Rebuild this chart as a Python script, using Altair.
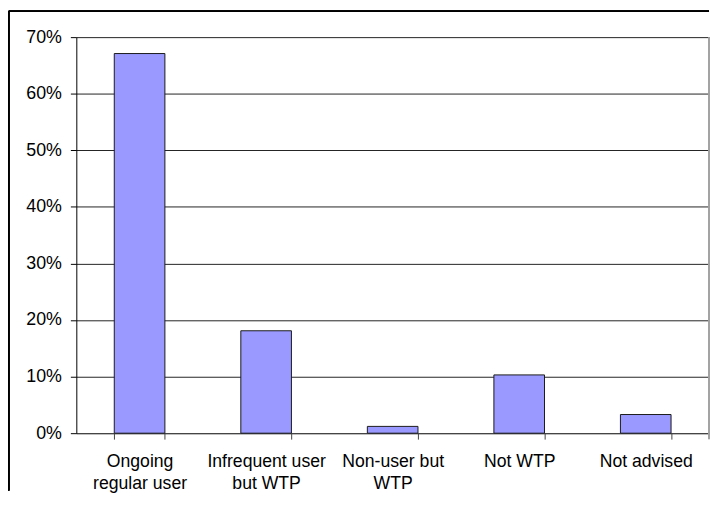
import altair as alt
import pandas as pd

categories = ["Ongoing\nregular user", "Infrequent user\nbut WTP", "Non-user but\nWTP", "Not WTP", "Not advised"]
shares = [0.671, 0.181, 0.012, 0.103, 0.033]
y_ticks = [0.0, 0.1, 0.2, 0.3, 0.4, 0.5, 0.6, 0.7]

df = pd.DataFrame({"category": categories, "share": shares})

W, H = 639, 400
FONT = "Liberation Sans"

bars = alt.Chart(df).mark_bar(color="#9999FF", stroke="#1a1a1a", strokeWidth=1).encode(
    x=alt.X(
        "category:N",
        sort=categories,
        scale=alt.Scale(paddingInner=0.6, paddingOuter=0.3),
        axis=alt.Axis(
            title=None,
            labelAngle=0,
            labelExpr="split(datum.label, '\\n')",
            labelFontSize=17.8,
            labelFont=FONT,
            labelColor="#000000",
            labelLineHeight=21.6,
            labelPadding=14,
            tickBand="extent",
            tickExtra=True,
            tickSize=6,
            tickColor="#444444",
            domainColor="#444444",
            grid=False,
        ),
    ),
    y=alt.Y(
        "share:Q",
        scale=alt.Scale(domain=[0, 0.7], nice=False),
        axis=alt.Axis(
            title=None,
            values=y_ticks,
            format=".0%",
            labelFontSize=18,
            labelFont=FONT,
            labelColor="#000000",
            labelPadding=9,
            tickSize=6,
            tickColor="#000000",
            domainColor="#000000",
            grid=True,
            gridColor="#222222",
            gridOpacity=1,
        ),
    ),
)

right_edge = alt.Chart(df).mark_rule(color="#a0a0a0", strokeWidth=1).encode(
    x=alt.value(W), y=alt.value(0), y2=alt.value(H + 6)
)
border_left = alt.Chart(df).mark_rule(color="#000000", strokeWidth=1.5).encode(
    x=alt.value(-68.25), y=alt.value(-26.25), y2=alt.value(458)
)
border_top = alt.Chart(df).mark_rule(color="#000000", strokeWidth=1.5).encode(
    x=alt.value(-68.25), x2=alt.value(W), y=alt.value(-26.25)
)

chart = alt.layer(bars, right_edge, border_left, border_top).properties(
    width=W, height=H, padding=0, background="#ffffff"
).configure_view(stroke=None)

chart.save("out.html", embed_options={"renderer": "svg", "actions": False})
